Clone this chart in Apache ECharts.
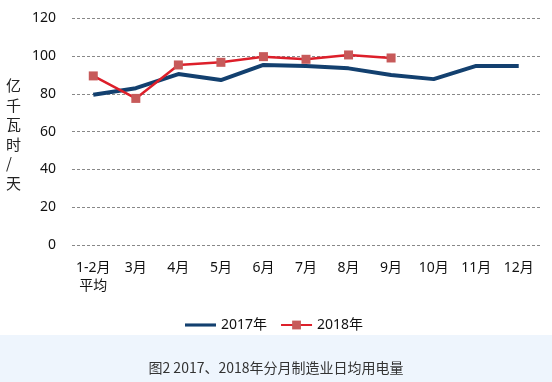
<!DOCTYPE html>
<html><head><meta charset="utf-8">
<script src="https://cdn.jsdelivr.net/npm/echarts@6/dist/echarts.min.js"></script>
<style>html,body{margin:0;padding:0;background:#fff}#c{width:552px;height:382px}</style>
</head><body><div id="c"></div>
<script>
var categories = ['1-2月\n平均','3月','4月','5月','6月','7月','8月','9月','10月','11月','12月'];
var values2017 = [79.5, 83, 90.5, 87.3, 95.3, 94.7, 93.5, 90, 87.8, 94.8, 94.8];
var values2018 = [89.5, 77.6, 95.3, 96.7, 99.7, 98.3, 100.6, 99];
var yTicks = [0, 20, 40, 60, 80, 100, 120];
var seriesNames = ['2017年', '2018年'];
var caption = '图2 2017、2018年分月制造业日均用电量';
var yTitle = '亿千瓦时/天';

var font = '"Noto Sans", "Noto Sans CJK SC", sans-serif';
var chart = echarts.init(document.getElementById('c'));
chart.setOption({
  animation: false,
  grid: {left: 72, right: 12, top: 18.3, bottom: 137},
  graphic: [
    {type: 'rect', shape: {x: 0, y: 335, width: 552, height: 47}, style: {fill: '#eef5fd'}, z: -1},
    {type: 'text', left: 'center', top: 361, style: {text: caption, fill: '#333', font: '14px "Noto Sans CJK SC", sans-serif'}},
    {type: 'text', left: 6, top: 76, style: {text: yTitle.split('').join('\n'), fill: '#222', font: '15px "Noto Sans CJK SC", sans-serif', lineHeight: 19.5, align: 'center', width: 16}}
  ],
  legend: {
    data: [
      {name: seriesNames[0], icon: 'path://M0,0L40,0L40,4L0,4Z'},
      {name: seriesNames[1]}
    ],
    left: 180, top: 313, itemWidth: 31, itemHeight: 11, itemGap: 13,
    textStyle: {fontFamily: font, fontSize: 14, color: '#111'}
  },
  xAxis: {
    type: 'category', data: categories, boundaryGap: true,
    axisLine: {show: false}, axisTick: {show: false},
    axisLabel: {fontFamily: font, fontSize: 14, color: '#111', margin: 14, lineHeight: 18, verticalAlign: 'top', interval: 0}
  },
  yAxis: {
    type: 'value', min: yTicks[0], max: yTicks[yTicks.length - 1], interval: 20,
    axisLine: {show: false}, axisTick: {show: false},
    axisLabel: {fontFamily: font, fontSize: 14, color: '#111', margin: 16},
    splitLine: {lineStyle: {type: [3, 2], color: '#888', width: 1}}
  },
  series: [
    {name: seriesNames[0], type: 'line', data: values2017, symbol: 'none',
     lineStyle: {color: '#13406f', width: 4}, itemStyle: {color: '#13406f'}},
    {name: seriesNames[1], type: 'line', data: values2018, symbol: 'rect', symbolSize: 9,
     lineStyle: {color: '#dd1f2a', width: 2.5}, itemStyle: {color: '#c75a5a'}}
  ]
});
</script></body></html>
